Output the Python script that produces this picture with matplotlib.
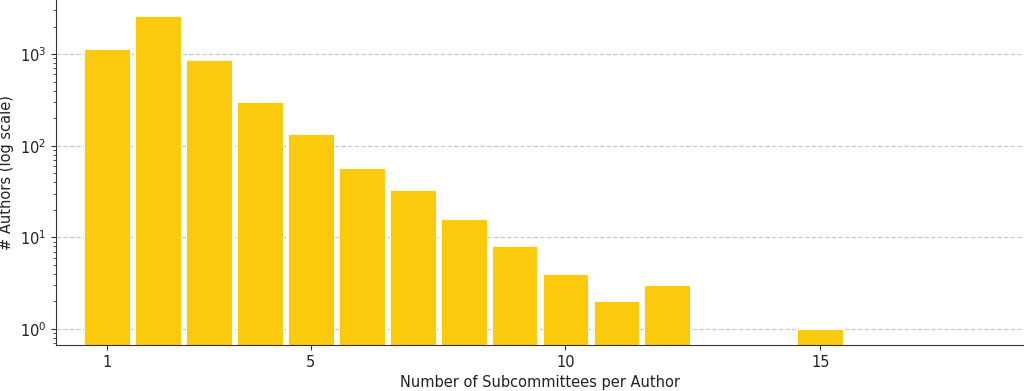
import matplotlib.pyplot as plt
import numpy as np

# numero di sottocommissioni per autore e conteggi
n_subcommittees = [1, 2, 3, 4, 5, 6, 7, 8, 9, 10, 11, 12, 15]
n_authors = [1130, 2600, 860, 300, 135, 57, 33, 16, 8, 4, 2, 3, 1]
xticks = [1, 5, 10, 15]

fig = plt.figure(figsize=(10.24, 3.91), dpi=100)
ax = fig.add_axes([0.0547, 0.1176, 0.9453, 0.8824])

ax.bar(n_subcommittees, n_authors, width=0.9, color="#fbca0d",
       edgecolor="white", linewidth=0.6, zorder=2)
ax.set_yscale("log")
ax.set_ylim(0.67, 3900)
ax.set_xlim(0, 19)
ax.set_xticks(xticks)
ax.set_xticklabels([str(t) for t in xticks])

ax.grid(axis="y", which="major", linestyle="--", color="#cccccc", linewidth=0.9, zorder=0)
ax.spines["top"].set_visible(False)
ax.spines["right"].set_visible(False)
for s in ["left", "bottom"]:
    ax.spines[s].set_color("#333333")
ax.tick_params(labelsize=10.5, colors="#333333", labelcolor="#222222")
ax.tick_params(which="minor", colors="#333333")

ax.set_xlabel("Number of Subcommittees per Author", fontsize=10.5, color="#222222")
ax.set_ylabel("# Authors (log scale)", fontsize=10.5, color="#222222")

fig.savefig("out.png", dpi=100)
